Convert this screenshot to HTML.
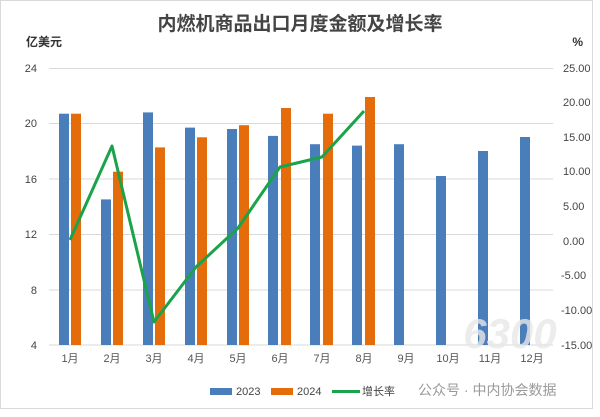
<!DOCTYPE html>
<html><head><meta charset="utf-8"><style>
body{margin:0;background:#fff}
svg text{font-family:"Liberation Sans","Noto Sans CJK SC",sans-serif}
</style></head><body>
<svg width="600" height="412" viewBox="0 0 600 412" xmlns="http://www.w3.org/2000/svg">
<rect x="0" y="0" width="600" height="412" fill="#fff"/>
<rect x="0.5" y="0.5" width="592" height="408" fill="none" stroke="#d9d9d9"/>
<text x="300" y="30" font-size="19" fill="#444" text-anchor="middle" font-weight="bold">内燃机商品出口月度金额及增长率</text>
<text x="26" y="46" font-size="12" fill="#333" font-weight="bold">亿美元</text>
<text x="583" y="46" font-size="12" fill="#333" font-weight="bold" text-anchor="end">%</text>
<g stroke="#d9d9d9" stroke-width="1">
<line x1="49" x2="553" y1="68.5" y2="68.5"/>
<line x1="49" x2="553" y1="123.5" y2="123.5"/>
<line x1="49" x2="553" y1="179" y2="179"/>
<line x1="49" x2="553" y1="234.5" y2="234.5"/>
<line x1="49" x2="553" y1="290" y2="290"/>
<line x1="49" x2="553" y1="345" y2="345"/>
</g>
<g font-size="11" fill="#444" text-anchor="end">
<text x="37" y="72">24</text><text x="37" y="127">20</text><text x="37" y="183">16</text>
<text x="37" y="238">12</text><text x="37" y="294">8</text><text x="37" y="349">4</text>
</g>
<g font-size="11" fill="#444" text-anchor="start">
<text x="563" y="72">25.00</text><text x="563" y="106">20.00</text><text x="563" y="141">15.00</text>
<text x="563" y="175">10.00</text><text x="563" y="210">5.00</text><text x="563" y="245">0.00</text>
<text x="561" y="279">-5.00</text><text x="561" y="314">-10.00</text><text x="561" y="349">-15.00</text>
</g>
<g id="bars"></g>
<g fill="#4a7ebb">
<rect x="59" y="113.7" width="10" height="231.3"/>
<rect x="101" y="199.4" width="10" height="145.6"/>
<rect x="143" y="112.4" width="10" height="232.6"/>
<rect x="185" y="127.6" width="10" height="217.4"/>
<rect x="227" y="129" width="10" height="216"/>
<rect x="268" y="135.9" width="10" height="209.1"/>
<rect x="310" y="144.2" width="10" height="200.8"/>
<rect x="352" y="145.6" width="10" height="199.4"/>
<rect x="394" y="144.2" width="10" height="200.8"/>
<rect x="436" y="176" width="10" height="169"/>
<rect x="478" y="151" width="10" height="194"/>
<rect x="520" y="137" width="10" height="208"/>
</g>
<g fill="#e46c0a">
<rect x="71" y="113.7" width="10" height="231.3"/>
<rect x="113" y="171.7" width="10" height="173.3"/>
<rect x="155" y="147.4" width="10" height="197.6"/>
<rect x="197" y="137.3" width="10" height="207.7"/>
<rect x="239" y="125.2" width="10" height="219.8"/>
<rect x="281" y="108" width="10" height="237"/>
<rect x="323" y="113.7" width="10" height="231.3"/>
<rect x="365" y="97" width="10" height="248"/>
</g>
<polyline fill="none" stroke="#1aa34a" stroke-width="3" stroke-linejoin="round" points="70,240 112,146 154,322 196,267 238,228 280,167 322,157 364,111"/>
<g font-size="11" fill="#555" text-anchor="middle" font-family="Liberation Sans,Noto Sans CJK SC,sans-serif">
<text x="70" y="362">1月</text><text x="112" y="362">2月</text><text x="154" y="362">3月</text>
<text x="196" y="362">4月</text><text x="238" y="362">5月</text><text x="280" y="362">6月</text>
<text x="322" y="362">7月</text><text x="364" y="362">8月</text><text x="406" y="362">9月</text>
<text x="448" y="362">10月</text><text x="490" y="362">11月</text><text x="532" y="362">12月</text>
</g>
<rect x="210" y="388" width="22" height="7" fill="#4a7ebb"/>
<text x="236" y="395" font-size="11" fill="#444">2023</text>
<rect x="271" y="388" width="22" height="7" fill="#e46c0a"/>
<text x="297" y="395" font-size="11" fill="#444">2024</text>
<line x1="332" x2="360" y1="391.5" y2="391.5" stroke="#1aa34a" stroke-width="3"/>
<text x="362" y="395" font-size="11" fill="#444">增长率</text>
<text x="418" y="395" font-size="14" fill="#999">公众号 · 中内协会数据</text>
<text x="510" y="348" font-size="42" fill="#e8e8e8" font-style="italic" font-weight="bold" text-anchor="middle" opacity="0.8">6300</text>
</svg>
</body></html>
